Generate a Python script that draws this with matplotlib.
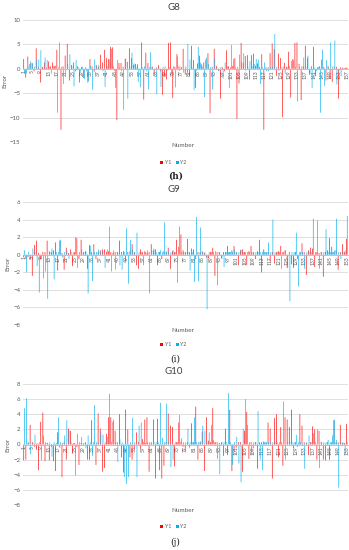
import matplotlib
matplotlib.use("Agg")
import matplotlib.pyplot as plt
import numpy as np

# ---- data (error per sample number) ----
g8_y1 = [2.0, -1.8, 2.5, 1.0, 1.2, -0.5, 4.2, 0.3, -2.8, 0.4,
         1.3, 0.2, 1.5, 0.5, 1.3, 0.6, 3.9, 0.3, -12.5, 0.5,
         2.7, 5.1, -2.4, 0.8, 1.3, -0.5, 0.5, -2.8, 0.4, -1.9,
         0.3, -2.8, 2.0, 0.5, -0.6, 0.8, 0.4, 2.9, 1.3, 3.9,
         2.2, 2.0, 4.5, 4.4, -0.4, -10.5, 1.2, 1.2, 0.4, 2.1,
         1.4, 4.2, 2.2, 0.8, 1.0, 0.9, -0.3, 5.4, -6.3, 3.3,
         1.2, 0.4, 0.5, -1.0, 0.3, 0.8, -0.5, -5.3, -1.5, -2.2,
         5.3, 5.4, -6.0, 0.4, 3.0, 0.5, 0.4, 4.1, -1.2, -0.8,
         -1.5, 4.7, 1.8, -3.9, 1.1, 2.7, 0.9, 1.3, 1.9, 3.2,
         -9.1, 0.4, 4.1, 0.6, -0.4, -6.1, 0.3, -0.5, 3.8, 0.5,
         0.3, 0.6, 2.2, -10.3, -3.0, 5.3, 1.2, 2.6, 2.8, -2.2,
         2.8, 3.1, 0.6, 1.1, 0.4, 3.0, -12.5, 0.3, 0.3, 3.2,
         5.2, 4.0, -1.5, 3.1, 2.2, -9.9, 1.2, 0.4, 3.5, -5.9,
         2.0, 5.3, 5.4, 1.0, -6.4, 0.5, 4.7, 2.2, -1.2, 0.5,
         4.5, -1.5, 0.3, 0.5, 1.9, 0.4, -2.4, 0.6, -2.0, -2.7,
         0.3, 0.4, -6.1, 0.3, 0.2, 0.1, 0.2]
g8_y2 = [-1.0, -1.0, 0.3, 1.5, 1.1, 0.4, 1.9, 1.9, 3.8, 0.3,
         2.3, 1.8, 0.4, -1.0, 0.5, 0.6, -9.0, 5.4, 0.4, -3.1,
         -0.8, 1.0, 3.0, 0.5, -3.6, 1.8, 0.3, -0.6, 0.4, -2.1,
         -0.5, -2.5, 0.6, -4.3, 1.9, 0.5, 0.8, 0.4, -0.5, -3.7,
         0.5, 1.9, 4.1, 0.5, -3.9, 1.8, 0.3, -0.5, -8.4, 2.0,
         -6.1, 0.4, 3.3, 1.1, 0.3, -2.7, -3.8, 0.3, 0.5, -0.5,
         -4.2, 3.4, 0.3, -0.3, -5.2, 0.3, -3.7, 0.4, 0.5, -0.4,
         0.3, -1.0, 0.5, -3.8, 2.5, -0.4, 0.3, -0.8, 0.5, 5.1,
         1.9, 0.3, -4.4, -0.5, 4.5, 1.3, 0.4, -5.8, 2.3, 1.0,
         0.3, -4.2, 2.1, 0.3, -0.5, 0.4, -2.0, 1.3, 0.5, -3.9,
         4.9, 2.0, 0.3, 0.4, 2.9, 1.5, 3.2, -0.4, 0.5, 1.6,
         0.5, 1.0, 2.0, 1.9, -3.1, 0.3, 1.3, -0.5, -0.5, 0.3,
         0.5, 7.1, 0.4, -0.4, 0.3, 0.5, -1.0, 0.3, 0.6, 1.6,
         1.8, 0.4, -6.7, 0.3, 0.5, 2.3, 0.4, 2.7, -1.0, -3.9,
         0.3, -0.5, 0.4, -9.0, 3.9, -3.5, 1.8, 0.3, 5.4, 0.5,
         5.8, -3.2, -0.5, -1.5, 0.2, 0.3, 0.2]

g9_y1 = [-0.3, -0.5, -0.3, -0.5, -2.4, 1.1, 1.6, 0.2, -0.5, 0.3,
         0.3, 1.6, 0.4, 0.3, 0.5, 1.4, -1.8, 1.6, 0.2, -1.7,
         0.8, 0.2, 0.6, -1.3, 0.3, 1.9, -0.5, 1.7, 0.3, 0.4,
         -1.6, 1.1, 0.3, 1.2, -0.5, 0.3, 0.5, 0.6, 0.6, 0.3,
         0.4, 0.3, 0.2, 0.3, 0.3, 1.6, 0.3, 0.4, -0.6, 0.3,
         0.4, 1.2, 0.3, -1.2, -1.6, 0.6, 0.3, 0.4, 0.2, 0.3,
         1.2, 0.5, 0.6, -1.2, 0.3, -0.5, 0.4, 0.3, 0.8, -1.6,
         0.4, 0.3, 1.7, 0.9, 2.3, 0.5, 0.3, 1.8, 0.3, 0.7,
         0.6, -0.5, 0.3, 0.3, 0.4, 0.2, -0.3, -0.4, 0.3, 0.8,
         -2.4, 0.3, 0.3, -0.4, 0.3, 0.3, 1.0, 0.3, 0.5, 1.0,
         0.3, -1.2, 0.5, 0.6, 0.3, -1.2, 0.4, 1.0, 0.3, -0.5,
         0.4, 1.7, -2.0, 0.6, 0.3, 0.3, -0.8, 0.3, -1.0, 0.3,
         0.4, 1.0, 0.3, 0.5, -1.5, 0.3, -1.1, -1.5, 0.3, -0.5,
         0.3, 1.3, 0.3, -2.3, 0.5, 0.8, 0.7, -1.4, 0.3, 0.2,
         0.3, -2.5, 0.3, 0.5, 1.9, 0.9, 0.3, 0.5, -1.7, 0.3,
         1.2, 0.3, 1.8]
g9_y2 = [0.5, -2.0, 0.3, -0.3, 0.7, 0.3, -1.3, -4.3, -0.5, -2.7,
         -1.9, -5.0, 0.3, 0.7, -2.8, 0.3, 0.3, 1.7, -0.3, 0.3,
         0.4, -0.5, 0.3, 0.3, 2.0, -1.5, 0.3, 0.6, 0.3, 0.3,
         -4.4, 1.0, -3.0, 0.3, 0.3, 0.6, 0.3, 0.3, -1.5, 0.6,
         3.2, -1.9, 0.5, -1.7, 0.3, -1.2, -1.7, 0.3, 3.0, -3.3,
         1.7, 0.6, 0.3, 2.5, 0.3, 0.3, -1.2, 0.3, 0.5, -4.4,
         0.5, 0.7, 0.3, 0.3, 0.5, 0.3, 3.7, 0.4, 0.3, 0.3,
         0.5, 0.3, -3.2, 3.2, 0.3, 0.3, 0.3, 0.3, -1.8, 0.3,
         -3.1, 4.3, -3.0, 3.1, 0.3, 0.3, -6.2, 0.3, 0.3, 0.3,
         0.4, -3.5, 0.3, -0.5, -1.4, 0.3, 0.3, 0.3, 0.3, 0.6,
         0.3, 0.3, 0.6, 0.3, 0.3, 0.3, 0.3, 0.3, 0.3, 0.3,
         0.3, 0.3, 0.3, 0.3, 0.3, 1.4, 0.3, 4.0, 0.3, 0.3,
         0.3, -1.6, 0.3, 0.5, -1.5, -5.3, 0.3, 0.3, 2.5, -3.6,
         0.3, 0.3, -1.6, 0.3, 0.3, 0.3, 4.1, 0.3, 3.9, -1.6,
         0.3, 0.3, 2.9, 0.3, 0.3, 0.3, 0.5, 4.1, 0.3, -0.5,
         0.3, 0.5, 4.4]

g10_y1 = [-2.1, -2.0, 0.2, 2.6, 0.3, -0.3, -0.7, -3.4, 3.0, 4.2,
          -2.2, 0.2, -2.1, -0.3, -2.2, -3.5, 1.6, -0.4, -4.3, 0.3,
          -2.0, 2.1, 1.8, -1.2, 0.2, -0.3, -2.7, 0.2, 0.1, 0.3,
          -2.0, -2.0, 3.2, 0.3, -2.7, 4.1, 2.1, -3.6, -3.1, 1.4,
          3.6, 3.6, 3.0, 1.8, 0.3, 4.0, -1.7, -3.7, 4.6, 2.0,
          -1.7, -2.0, -0.6, 1.6, 0.3, -0.5, 0.7, 3.3, 3.6, -3.6,
          0.3, 3.3, -4.5, 3.4, -3.4, -4.5, -2.8, 0.3, 4.1, 2.5,
          2.3, -2.9, 0.3, 2.9, 0.3, -0.3, -0.9, 0.3, -0.4, 2.8,
          0.3, 5.0, -2.0, 0.3, 1.7, -3.5, 3.6, 0.5, 0.3, 4.8,
          0.3, 0.3, 0.2, 0.3, -1.5, 2.1, -1.4, 4.6, -3.5, -1.0,
          -0.4, 0.3, 0.3, -3.6, 1.8, 4.3, -1.9, 0.3, -0.5, 0.3,
          -3.2, 0.3, 0.3, 0.4, 0.3, 2.9, 2.1, -4.5, 3.5, 4.0,
          -1.7, 2.3, -2.8, 3.6, 3.3, 2.3, 4.6, -0.5, 0.3, -0.3,
          4.0, 2.5, 0.3, 0.2, -1.4, 0.3, 2.4, 2.0, -2.0, 1.8,
          0.3, -2.0, -2.1, 0.3, -2.0, 0.3, 3.2, 0.3, 0.3, 2.6,
          0.2, 0.2, 2.7]
g10_y2 = [4.8, 6.1, 0.3, -1.3, 0.2, 1.3, 0.2, 0.3, -2.1, 1.1,
          0.3, 0.2, 0.3, -1.6, 0.3, 0.2, 3.6, 0.3, 0.2, 1.2,
          3.2, 1.8, 0.3, 0.2, -4.1, 1.4, 0.3, 1.0, 0.2, -0.5,
          1.2, 0.3, -1.5, 5.2, 0.3, 0.2, 1.6, 1.3, 0.3, 1.0,
          6.7, 0.3, 3.3, 0.3, -2.3, 0.7, 0.3, -4.3, -5.2, -4.3,
          0.3, 3.5, 0.3, -4.3, 2.5, 2.9, 0.3, 0.2, 0.3, 0.3,
          0.1, 0.3, 0.3, 0.3, 5.5, 0.9, 0.3, 5.4, 0.3, -3.0,
          -2.0, 0.3, 0.3, 3.9, 0.8, 0.3, 0.3, 2.1, 0.3, 0.3,
          3.6, 0.3, 0.3, 0.4, 2.5, 1.8, 0.3, 1.6, 2.6, 0.6,
          0.3, -1.9, -3.9, 0.3, 0.3, 0.3, 6.8, 0.3, -2.7, 0.3,
          1.0, -2.5, -5.0, 2.1, 6.0, 2.6, 0.3, -1.2, 0.3, 0.3,
          4.4, -2.0, -3.4, 0.3, 0.3, 0.3, 0.3, 0.3, 0.3, 0.3,
          0.3, 0.3, 5.7, -2.0, 0.3, 0.3, 0.3, 0.3, 1.3, 0.3,
          0.3, -0.2, -3.2, 0.3, 1.2, 0.3, 1.5, 0.3, 2.0, -3.1,
          0.3, 0.3, 0.3, 0.6, 0.3, 1.2, 3.3, 0.6, -5.7, 0.3,
          0.3, -1.2, 0.3]

panels = [
    # title, y1, y2, y-limits, y-step, caption, caption bold
    ("G8", g8_y1, g8_y2, (-15, 10), 5, "(h)", True),
    ("G9", g9_y1, g9_y2, (-8, 6), 2, "(i)", False),
    ("G10", g10_y1, g10_y2, (-8, 8), 2, "(j)", False),
]

# pixel rows (top, bottom of plot area) and text rows for each panel
rows = [
    dict(top=20, bot=142, title=7, xlabel=146, legend=163, cap=176),
    dict(top=202, bot=325, title=190, xlabel=330, legend=345, cap=359),
    dict(top=384, bot=505, title=371, xlabel=511, legend=527, cap=542),
]

W, H = 349, 550
plt.rcParams['font.family'] = ['Lato', 'DejaVu Sans']
fig = plt.figure(figsize=(W / 100, H / 100), dpi=100)

RED = '#FF0000'
BLUE = '#00B0F0'
GRID = '#D9D9D9'
TXT = '#595959'


def draw_panel(p, r):
    title, y1, y2, (lo, hi), step, cap, bold = p
    n = len(y1)
    x = np.arange(1, n + 1)
    left, right = 23, 348
    ax = fig.add_axes([left / W, 1 - r['bot'] / H,
                       (right - left) / W, (r['bot'] - r['top']) / H])
    w = 0.3
    b1 = ax.bar(x - w / 2, y1, width=w, color=RED, linewidth=0, label='Y1')
    b2 = ax.bar(x + w / 2, y2, width=w, color=BLUE, linewidth=0, label='Y2')
    for bar in list(b1) + list(b2):
        bar.set_snap(False)
    ax.set_xlim(0.5, n + 0.5)
    ax.set_ylim(lo, hi)
    ax.set_yticks(np.arange(lo, hi + 0.1, step))
    ax.yaxis.grid(True, color=GRID, linewidth=0.6)
    ax.set_axisbelow(True)
    for s in ['top', 'right', 'left']:
        ax.spines[s].set_visible(False)
    ax.spines['bottom'].set_position(('data', 0))
    ax.spines['bottom'].set_color('#BFBFBF')
    ax.spines['bottom'].set_linewidth(0.6)
    ax.set_xticks(x[::4])
    ax.set_xticklabels([str(v) for v in x[::4]], rotation=90, fontsize=3.6,
                       color=TXT)
    ax.tick_params(axis='x', length=0, pad=1)
    ax.tick_params(axis='y', length=0, pad=2, labelsize=4.3, labelcolor=TXT)
    ax.set_ylabel('Error', fontsize=4.5, color=TXT, labelpad=2)

    fig.text(0.497, 1 - r['title'] / H, title, ha='center', va='center',
             fontsize=7, color='#404040')
    fig.text(0.523, 1 - r['xlabel'] / H, 'Number', ha='center', va='center',
             fontsize=4.6, color=TXT)
    fig.legend(handles=[b1, b2], loc='center',
               bbox_to_anchor=(0.497, 1 - r['legend'] / H), ncol=2,
               frameon=False, fontsize=3.8, handlelength=0.6,
               handleheight=0.6, handletextpad=0.3, columnspacing=0.8,
               labelcolor=TXT)
    fig.text(0.502, 1 - r['cap'] / H, cap, ha='center', va='center',
             fontsize=6.5, family=['DejaVu Serif'],
             fontweight='bold' if bold else 'normal', color='#222222')


for p, r in zip(panels, rows):
    draw_panel(p, r)

plt.savefig('out.png', dpi=100)
